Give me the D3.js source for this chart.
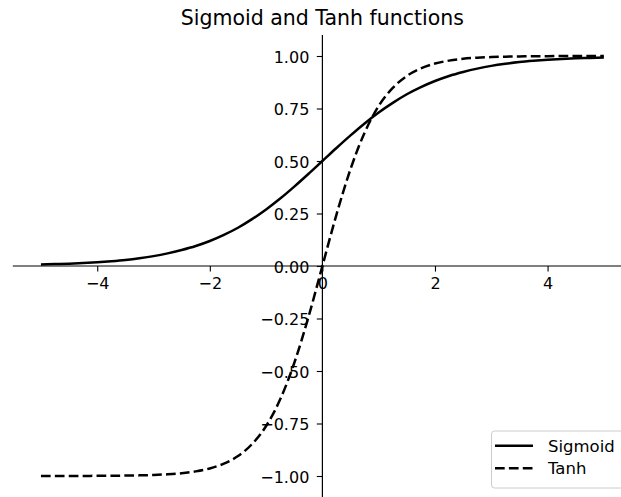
<!DOCTYPE html>
<html>
<head>
<meta charset="utf-8">
<script src="https://cdn.jsdelivr.net/npm/d3@7"></script>
<style>
  html, body { margin: 0; padding: 0; background: #fff; }
  svg { display: block; }
  text { font-family: "DejaVu Sans", sans-serif; fill: #000; }
</style>
</head>
<body>
<svg id="chart" width="621" height="497"></svg>
<script>
// ---- data ----
const xValues = [-5, -4.75, -4.5, -4.25, -4, -3.75, -3.5, -3.25, -3, -2.75, -2.5, -2.25, -2, -1.75, -1.5, -1.25, -1, -0.75, -0.5, -0.25,
                 0, 0.25, 0.5, 0.75, 1, 1.25, 1.5, 1.75, 2, 2.25, 2.5, 2.75, 3, 3.25, 3.5, 3.75, 4, 4.25, 4.5, 4.75, 5];
const sigmoidValues = [0.007, 0.009, 0.011, 0.014, 0.018, 0.023, 0.029, 0.037, 0.047, 0.060, 0.076, 0.095, 0.119, 0.148, 0.182, 0.223, 0.269, 0.321, 0.378, 0.438,
                       0.500, 0.562, 0.622, 0.679, 0.731, 0.777, 0.818, 0.852, 0.881, 0.905, 0.924, 0.940, 0.953, 0.963, 0.971, 0.977, 0.982, 0.986, 0.989, 0.991, 0.993];
const tanhValues = [-1.000, -1.000, -1.000, -1.000, -0.999, -0.999, -0.998, -0.997, -0.995, -0.992, -0.987, -0.978, -0.964, -0.941, -0.905, -0.848, -0.762, -0.635, -0.462, -0.245,
                    0.000, 0.245, 0.462, 0.635, 0.762, 0.848, 0.905, 0.941, 0.964, 0.978, 0.987, 0.992, 0.995, 0.997, 0.998, 0.999, 0.999, 1.000, 1.000, 1.000, 1.000];
const seriesNames = ["Sigmoid", "Tanh"];
const xTicks = [-4, -2, 0, 2, 4];
const yTicks = [-1.00, -0.75, -0.50, -0.25, 0.00, 0.25, 0.50, 0.75, 1.00];
const titleText = "Sigmoid and Tanh functions";

// ---- layout ----
const svg = d3.select("#chart");
const FS = 16;
const x = d3.scaleLinear().domain([-5.5, 5.5]).range([12.8, 632.0]);
const y = d3.scaleLinear().domain([-1.1, 1.1]).range([497, 35]);

const series = [
  { name: seriesNames[0], values: sigmoidValues, dash: null },
  { name: seriesNames[1], values: tanhValues, dash: "9.7,4.2" }
];

const line = d3.line()
  .x(d => x(d[0]))
  .y(d => y(d[1]))
  .curve(d3.curveMonotoneX);

// curves
svg.append("g").selectAll("path").data(series).join("path")
  .attr("d", s => line(xValues.map((xv, i) => [xv, s.values[i]])))
  .attr("fill", "none")
  .attr("stroke", "#000")
  .attr("stroke-width", 2.5)
  .attr("stroke-dasharray", s => s.dash);

// x axis (spine at y=0)
const xAxis = d3.axisBottom(x).tickValues(xTicks).tickSize(5.6).tickPadding(5.6)
  .tickFormat(d => d3.format("d")(d).replace("-", "\u2212"));
const gx = svg.append("g").attr("transform", `translate(0,${y(0)})`).call(xAxis);
gx.select(".domain").attr("d", `M${x.range()[0]},0H${x.range()[1]}`).attr("stroke", "#000").attr("stroke-width", 1.2);
gx.selectAll(".tick line").attr("stroke", "#000").attr("stroke-width", 1.1);
gx.selectAll(".tick text").attr("font-size", FS).attr("font-family", "DejaVu Sans").attr("fill", "#000");

// y axis (spine at x=0)
const yAxis = d3.axisLeft(y).tickValues(yTicks).tickSize(5.6).tickPadding(7.5)
  .tickFormat(d => d3.format(".2f")(d).replace("-", "\u2212"));
const gy = svg.append("g").attr("transform", `translate(${x(0)},0)`).call(yAxis);
gy.select(".domain").attr("d", `M0,${y.range()[0]}V${y.range()[1]}`).attr("stroke", "#000").attr("stroke-width", 1.2);
gy.selectAll(".tick line").attr("stroke", "#000").attr("stroke-width", 1.1);
gy.selectAll(".tick text").attr("font-size", FS).attr("font-family", "DejaVu Sans").attr("fill", "#000").attr("dy", "0.4em");

// title
svg.append("text")
  .attr("x", (x.range()[0] + x.range()[1]) / 2)
  .attr("y", 24.5)
  .attr("text-anchor", "middle")
  .attr("font-size", 20.5)
  .text(titleText);

// legend
const lg = svg.append("g").attr("transform", "translate(491.5,431)");
lg.append("rect")
  .attr("width", 140).attr("height", 57)
  .attr("rx", 3).attr("ry", 3)
  .attr("fill", "#fff").attr("fill-opacity", 0.8)
  .attr("stroke", "#cccccc").attr("stroke-width", 1);
const items = lg.selectAll("g.item").data(series).join("g")
  .attr("class", "item")
  .attr("transform", (d, i) => `translate(0,${14.7 + i * 22.6})`);
items.append("line")
  .attr("x1", 3.5).attr("x2", 41.5)
  .attr("stroke", "#000").attr("stroke-width", 2.5)
  .attr("stroke-dasharray", d => d.dash);
items.append("text")
  .attr("x", 56.5).attr("y", 0).attr("dy", "0.36em")
  .attr("font-size", 16.5)
  .text(d => d.name);
</script>
</body>
</html>
